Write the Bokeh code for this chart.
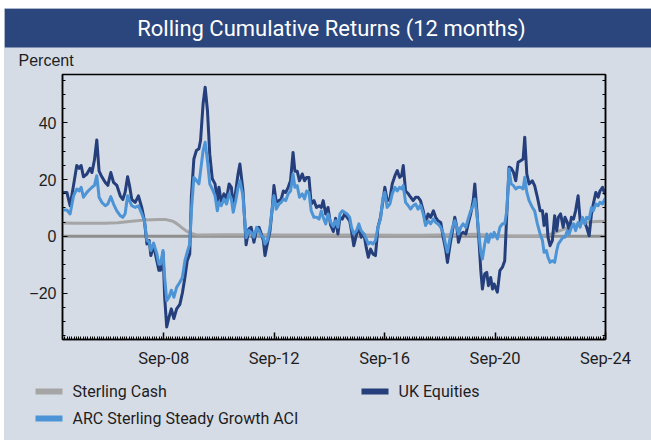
from bokeh.plotting import figure
from bokeh.layouts import column
from bokeh.models import Range1d, FixedTicker, LinearAxis, Span, CustomJSTickFormatter
from bokeh.core.properties import value
from bokeh.embed import file_html
from bokeh.resources import INLINE

# ---------------- data ----------------
TITLE = "Rolling Cumulative Returns (12 months)"
Y_LABEL = "Percent"
series_names = ["Sterling Cash", "UK Equities", "ARC Sterling Steady Growth ACI"]

x_tick_months = [44, 92, 140, 188, 236]          # months since Jan-2005
x_tick_labels = ["Sep-08", "Sep-12", "Sep-16", "Sep-20", "Sep-24"]
y_ticks = [-20, 0, 20, 40]

months_since_jan05 = [
    0, 1.9, 3.3, 4.8, 6.2, 7.2, 8.1, 9.1, 10.6, 12.0,
    12.8, 13.9, 14.9, 15.9, 17.1, 18.6, 19.7, 21.0, 22.2, 23.6,
    25.1, 26.2, 27.2, 28.3, 29.1, 30.1, 31.6, 33.0, 34.5, 35.6,
    36.7, 37.7, 38.4, 39.6,
    41.0, 41.9, 42.6, 43.7, 44.4, 45.3, 46.3, 47.3, 48.4, 49.6,
    51.0, 52.1, 53.2, 54.2, 55.3, 56.0, 57.1, 58.2, 59.3, 60.0,
    61.1, 62.0, 63.0, 64.0, 65.1, 66.3, 67.3, 68.0, 69.0, 70.2,
    71.3, 72.4, 73.4, 74.2, 75.3, 76.3, 77.1, 78.4, 79.8,
    81.0, 82.0, 83.2, 84.4, 85.4, 86.4, 87.3, 88.0, 89.0, 90.2,
    91.2, 91.9, 92.9, 94.1, 95.1, 96.0, 97.0, 98.1, 99.1, 100.2,
    101.0, 102.0, 103.0, 104.2, 105.2, 106.1, 107.1, 108.1, 109.3, 110.4,
    111.5, 112.5, 113.3, 114.4, 115.4, 116.5, 117.7, 118.7,
    119.7, 120.6, 121.6, 122.6, 123.7, 124.8, 125.6, 126.6, 127.8, 128.8,
    129.8, 131.0, 132.0, 132.9, 133.9, 134.9, 136.0, 137.1, 138.2, 139.3,
    140.1, 141.1, 142.3, 143.3, 144.5, 145.5, 146.5, 147.4, 148.1, 149.1,
    150.3, 151.3, 152.4, 153.5, 154.5, 155.6, 156.8, 157.8,
    158.9, 160.0, 161.2, 162.2, 163.2, 164.4, 165.6, 166.6, 167.3, 168.5,
    169.5, 170.5, 171.4, 172.1, 173.1, 174.1, 175.3, 176.3, 177.4, 178.5,
    179.2, 180.1, 181.1, 181.8, 182.5, 183.5, 184.4, 185.1, 186.1, 186.9,
    187.6, 189.0, 190.1, 191.2, 192.2, 193.1, 194.1,
    195.0, 196.0, 197.0, 198.0, 199.1, 200.2, 200.9, 201.8, 202.8, 204.2,
    205.2, 206.4, 207.6, 208.6, 209.3, 210.3, 211.0, 211.9, 212.9, 213.9,
    214.8, 215.5, 216.5, 217.6, 218.4, 219.4, 220.2, 221.2, 222.1, 223.0,
    224.1, 225.0, 226.0, 227.0, 227.8, 228.9, 229.9, 230.7, 231.8, 232.8,
    233.6, 234.7, 235.7, 236.0,
]

uk_equities = [
    15.5, 15.5, 10.8, 18, 25, 24, 25, 21, 22, 24,
    22.5, 27, 34, 23, 21, 19, 18, 22.5, 19, 18,
    14.3, 13, 15.5, 21, 18, 13, 12, 14.3, 10, 5.5,
    -2.7, -1.5, -6.8, -3.3,
    -8.6, -12, -12, -5.6, -21.5, -32, -28.5, -25.6, -29, -25.6,
    -24, -20, -14.5, -8.6, -6.2, 13.8, 27.3, 30.3, 30.9, 33.8,
    46.7, 52.6, 44.4, 29, 20.3, 18.5, 12.6, 17.3, 12, 15,
    13.2, 18.5, 17.3, 10.2, 16, 22, 25.5, 16.5, -3,
    2.6, 3.2, -2.1, 2.6, 3.2, 0.8, -1.5, -6.8, -2.7, 2,
    10.2, 17.9, 12, 12.6, 13.2, 16, 15.5, 17.3, 19.6, 29.6,
    23, 23, 19.6, 22, 19.6, 20.8, 20.8, 11.4, 12.6, 10.2,
    10.8, 10.2, 12.6, 7.9, 10.2, 4.1, 1.7, 6.4,
    0.8, 6.7, 6.1, 7.9, 6.7, 5.5, 2, -3.3, 0.8, 3.2,
    -0.3, 0.8, -3.9, -7.4, -4.5, -6.2, -6.8, 3.2, 6.7, 12.6,
    17.3, 12.6, 13.2, 18.5, 21.4, 23.2, 20.8, 21.4, 25, 16,
    15, 13.8, 12.6, 13.8, 13.8, 12.6, 9, 4.6,
    7.9, 6.7, 9, 6.7, 5.5, 4.9, -0.9, -5, -9.2, -2.7,
    2, 6.7, 3.2, -2.1, 0.8, 1.4, 0.8, 4.4, 7.9, 12.6,
    18.5, 9, -2.7, -12.1, -18.6, -13.3, -12.7, -17.4, -14.5, -18.6,
    -16.8, -19.7, -12.1, -10.9, -8.6, 7.9, 24.4,
    24.0, 22.6, 19.6, 26.1, 26.7, 27.3, 35, 22, 18.5, 19.6,
    17.9, 13.8, 9, 9, 3.8, 7.9, -0.3, -3.3, -1.5, 7.3,
    2, 6.7, 7.9, 3.2, 6.7, 4.9, 2, 6.7, 6.1, 9,
    14.3, 5.5, 6.1, 4.9, 3.2, 0.2, 7.9, 11.4, 15.5, 13.8,
    16, 17.3, 15, 15,
]

arc_steady_growth = [
    9.3, 9.3, 7.9, 14.3, 16.7, 16, 17.3, 13.8, 15.5, 16.7,
    17.3, 18, 21.4, 13.8, 12, 10.8, 11.4, 14, 11.4, 9,
    7.3, 6.7, 7.9, 14.3, 12.6, 10.8, 10.2, 10.8, 7.9, 5.5,
    -1.5, -2, -5, -2.4,
    -6.2, -9.8, -9.8, -5, -14.5, -22.7, -21.5, -19, -21.5, -18,
    -16.2, -14.5, -8.6, -5.6, -2.7, 9, 20.8, 19.7, 18.5, 23,
    30.2, 33.2, 26.7, 18.5, 16.7, 14.3, 9, 12, 10.8, 13.2,
    11.4, 15, 13.2, 8.5, 12.6, 17.3, 19.6, 14.5, -0.5,
    2, 1.4, -0.3, 3.2, 2, 0.2, -0.3, -2.7, -1.5, 3.2,
    10.2, 14.3, 9.6, 11.4, 12, 13.2, 12.6, 15, 16, 22,
    17.3, 17.9, 13.8, 15, 13.2, 16, 15.5, 9, 6.7, 6.7,
    6.1, 9, 6.7, 4.4, 7.9, 5, 3.5, 5.5,
    3.2, 7.9, 9, 8.5, 7.9, 6.7, 3.2, 0.8, 2, 4.4,
    2, 0.8, -0.9, -2.7, -2.1, -2.7, -1.5, 3.2, 6.1, 13.8,
    15.5, 10.2, 11.4, 15, 17.3, 16, 17.3, 16.7, 17.9, 12,
    10.8, 9.6, 10.8, 11.4, 9.6, 11, 7.9, 3.8,
    5.5, 4.4, 6.1, 4.9, 4.4, 3.2, 0.8, -3.3, -5.6, -0.3,
    3.2, 5.5, 3.2, 0.8, 3.2, 4.4, 3.2, 6.1, 9, 10.8,
    13.2, 7.9, -0.3, -5.6, -8, -2.7, 0.8, -2.1, 0.8, -0.3,
    1.4, -0.9, 3.2, 4.4, 4.4, 9, 23.8,
    18.5, 17.9, 16.7, 17.3, 17.3, 16.7, 20.8, 15.5, 12.6, 10.2,
    9, 4.4, 0.8, -1.5, -5.6, -5, -7.4, -9.2, -8.6, -9.2,
    -5, -2.7, -1.5, -0.3, -0.3, 2, 0.8, 3.2, 4.4, 2,
    4.9, 3.2, 6.7, 4.4, 6.7, 6.1, 10.2, 9, 11.4, 10.8,
    12, 11.4, 13.2, 13.5,
]

cash_months_since_jan05 = [
    0, 6, 12, 18, 24, 30, 36, 42, 45, 48,
    50, 52, 54, 56, 58, 60, 72, 84, 96, 108,
    120, 132, 144, 156, 168, 180, 186, 192, 204, 208,
    212, 216, 220, 224, 228, 232, 236,
]
sterling_cash = [
    4.7, 4.6, 4.6, 4.6, 4.8, 5.3, 5.8, 5.9, 5.9, 5.3,
    4.3, 3.0, 1.8, 1.0, 0.6, 0.5, 0.6, 0.6, 0.5, 0.5,
    0.5, 0.5, 0.4, 0.4, 0.6, 0.7, 0.3, 0.1, 0.1, 0.2,
    0.7, 1.9, 3.2, 4.4, 5.0, 5.2, 5.3,
]

assert len(months_since_jan05) == len(uk_equities) == len(arc_steady_growth)
assert len(cash_months_since_jan05) == len(sterling_cash)

# ---------------- style ----------------
BG = "#d6dce6"
NAVY_BAR = "#2b467c"
C_CASH = "#a5a5a5"
C_UK = "#243f7b"
C_ARC = "#4d94d6"
C_ZERO = "#8e8e8e"
TXT = "#1e1e1e"
W = 647

# ---------------- title strip ----------------
t = figure(width=W, height=62, x_range=Range1d(0, W), y_range=Range1d(0, 62),
           x_axis_type=None, y_axis_type=None, output_backend="svg",
           toolbar_location=None, min_border=0, background_fill_color=BG,
           border_fill_color=BG, outline_line_color=None, frame_align=False)
t.grid.visible = False
t.quad(left=[0], right=[W], bottom=[23], top=[62], fill_color=NAVY_BAR, line_color=None)
t.text(x=[327], y=[42], text=[TITLE], text_color="white", text_font=value("Roboto"),
       text_font_size="22px", text_align="center", text_baseline="middle")
t.text(x=[14], y=[10], text=[Y_LABEL], text_color=TXT, text_font=value("Liberation Sans"),
       text_font_size="16px", text_align="left", text_baseline="middle")

# ---------------- main chart ----------------
p = figure(width=W, height=310, x_range=Range1d(0, 236), y_range=Range1d(-36.4, 57.1),
           output_backend="svg", toolbar_location=None,
           min_border_left=58, min_border_right=46, min_border_top=4, min_border_bottom=41,
           background_fill_color=BG, border_fill_color=BG,
           outline_line_color="black", outline_line_width=1.5, frame_align=False)
p.grid.visible = False

xa = p.xaxis[0]
xa.ticker = FixedTicker(ticks=x_tick_months, minor_ticks=list(range(0, 237)))
xa.major_label_overrides = {k: v for k, v in zip(x_tick_months, x_tick_labels)}
xa.major_tick_in = 7
xa.major_tick_out = 0
xa.minor_tick_in = 3
xa.minor_tick_out = 0
xa.axis_line_width = 1.5
xa.major_tick_line_width = 1.5
xa.major_label_standoff = 9
xa.major_label_text_font = "Roboto"
xa.major_label_text_font_size = "16.5px"
xa.major_label_text_color = TXT

ya = p.yaxis[0]
ya.ticker = FixedTicker(ticks=y_ticks, minor_ticks=list(range(-35, 60, 5)))
ya.major_tick_in = 5
ya.major_tick_out = 0
ya.minor_tick_in = 3
ya.minor_tick_out = 0
ya.axis_line_width = 1.5
ya.major_label_standoff = 6
ya.major_label_text_font = "Liberation Sans"
ya.major_label_text_font_size = "16px"
ya.major_label_text_color = TXT

ra = LinearAxis(ticker=FixedTicker(ticks=y_ticks, minor_ticks=list(range(-35, 60, 5))),
                formatter=CustomJSTickFormatter(code="return ''"),
                major_tick_in=5, major_tick_out=0, minor_tick_in=3, minor_tick_out=0,
                axis_line_width=1.5)
p.add_layout(ra, "right")

p.add_layout(Span(location=0, dimension="width", line_color=C_ZERO, line_width=3, level="underlay"))
p.line(cash_months_since_jan05, sterling_cash, line_color=C_CASH, line_width=3)
p.line(months_since_jan05, uk_equities, line_color=C_UK, line_width=3, line_join="round")
p.line(months_since_jan05, arc_steady_growth, line_color=C_ARC, line_width=3, line_join="round")

# ---------------- legend strip ----------------
lg = figure(width=W, height=60, x_range=Range1d(0, W), y_range=Range1d(0, 60),
            x_axis_type=None, y_axis_type=None, output_backend="svg",
            toolbar_location=None, min_border=0, background_fill_color=BG,
            border_fill_color=BG, outline_line_color=None, frame_align=False)
lg.grid.visible = False
sw_x0 = [31, 357, 31]
sw_y = [49, 49, 22]
lg.segment(x0=sw_x0, y0=sw_y, x1=[x + 27 for x in sw_x0], y1=sw_y,
           line_color=[C_CASH, C_UK, C_ARC], line_width=6, line_cap="butt")
lg.text(x=[x + 37 for x in sw_x0], y=sw_y, text=series_names, text_color=TXT,
        text_font=value("Roboto"), text_font_size="16px", text_align="left",
        text_baseline="middle")

layout = column(t, p, lg, spacing=0, margin=(8, 0, 0, 4),
                styles={"background-color": BG})

open("out.html", "w").write(file_html(layout, INLINE))
